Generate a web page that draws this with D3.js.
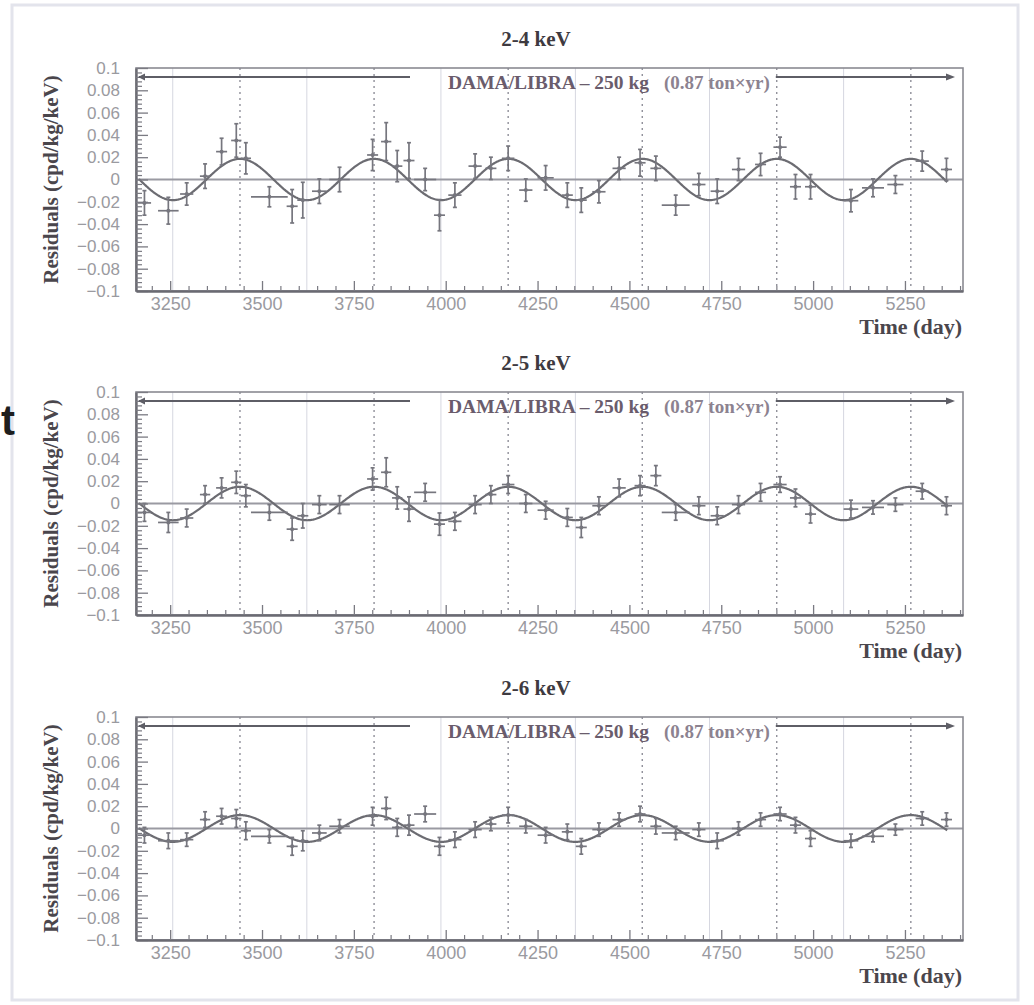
<!DOCTYPE html>
<html>
<head>
<meta charset="utf-8">
<script src="https://cdn.jsdelivr.net/npm/d3@7"></script>
<style>
  html, body { margin: 0; padding: 0; background: #fff; }
  svg { display: block; }
</style>
</head>
<body>
<svg id="chart" width="1034" height="1005"></svg>
<script>
// Time bins (days since 1 January 1995), shared by the three energy windows
const days = [
  3180, 3245, 3295, 3345, 3390, 3430, 3456, 3520, 3582, 3611,
  3656, 3711, 3801, 3838, 3868, 3900, 3944, 3983, 4025, 4080,
  4123, 4170, 4218, 4272, 4331, 4369, 4417, 4472, 4529, 4572,
  4626, 4689, 4739, 4797, 4857, 4910, 4952, 4993, 5103, 5163,
  5224, 5297, 5363
];
// Half width of each time bin (days)
const binHalfWidth = [
  18, 28, 18, 14, 15, 14, 14, 50, 15, 15,
  20, 28, 15, 14, 14, 15, 30, 15, 18, 18,
  15, 17, 18, 22, 15, 15, 18, 18, 15, 15,
  38, 18, 18, 18, 15, 18, 15, 15, 20, 30,
  22, 18, 15
];

// Residual rates (cpd/kg/keV) and their errors, 2-4 keV
const residuals24 = [
  -0.021, -0.028, -0.013, 0.003, 0.025, 0.035, 0.019, -0.0155, -0.024, -0.0185,
  -0.0105, 0.000, 0.022, 0.034, 0.012, 0.017, 0.000, -0.032, -0.014, 0.012,
  0.010, 0.019, -0.0095, 0.0015, -0.014, -0.0185, -0.011, 0.010, 0.015, 0.010,
  -0.023, -0.0045, -0.0105, 0.009, 0.0135, 0.029, -0.0065, -0.0065, -0.019, -0.0075,
  -0.0045, 0.0165, 0.009
];
const errors24 = [
  0.011, 0.012, 0.010, 0.011, 0.012, 0.015, 0.014, 0.009, 0.015, 0.016,
  0.011, 0.011, 0.014, 0.017, 0.014, 0.016, 0.010, 0.014, 0.011, 0.011,
  0.010, 0.011, 0.010, 0.011, 0.011, 0.011, 0.010, 0.010, 0.012, 0.011,
  0.009, 0.010, 0.011, 0.010, 0.010, 0.009, 0.011, 0.011, 0.010, 0.008,
  0.008, 0.009, 0.010
];

// 2-5 keV
const residuals25 = [
  -0.008, -0.017, -0.013, 0.008, 0.014, 0.019, 0.007, -0.008, -0.023, -0.011,
  -0.001, -0.001, 0.022, 0.028, 0.005, -0.005, 0.010, -0.0185, -0.016, -0.001,
  0.008, 0.017, 0.000, -0.006, -0.0125, -0.0215, -0.002, 0.014, 0.016, 0.025,
  -0.008, -0.002, -0.011, -0.001, 0.010, 0.017, 0.005, -0.0095, -0.005, -0.0035,
  -0.001, 0.011, -0.002
];
const errors25 = [
  0.008, 0.009, 0.008, 0.008, 0.009, 0.010, 0.010, 0.007, 0.010, 0.011,
  0.008, 0.008, 0.010, 0.013, 0.010, 0.011, 0.008, 0.010, 0.008, 0.008,
  0.008, 0.008, 0.008, 0.008, 0.008, 0.009, 0.008, 0.008, 0.009, 0.009,
  0.007, 0.008, 0.008, 0.008, 0.008, 0.007, 0.008, 0.008, 0.008, 0.006,
  0.006, 0.007, 0.008
];

// 2-6 keV
const residuals26 = [
  -0.006, -0.011, -0.010, 0.008, 0.011, 0.009, -0.002, -0.007, -0.016, -0.011,
  -0.004, 0.002, 0.011, 0.018, 0.001, 0.003, 0.013, -0.016, -0.010, -0.001,
  0.004, 0.012, 0.002, -0.006, -0.003, -0.016, -0.001, 0.008, 0.013, 0.002,
  -0.004, -0.001, -0.011, 0.000, 0.008, 0.013, 0.003, -0.009, -0.011, -0.007,
  -0.001, 0.009, 0.008
];
const errors26 = [
  0.007, 0.007, 0.006, 0.007, 0.007, 0.008, 0.008, 0.006, 0.008, 0.009,
  0.007, 0.006, 0.008, 0.010, 0.008, 0.009, 0.007, 0.008, 0.007, 0.007,
  0.006, 0.007, 0.006, 0.007, 0.007, 0.007, 0.006, 0.006, 0.007, 0.007,
  0.006, 0.006, 0.007, 0.006, 0.006, 0.006, 0.007, 0.007, 0.006, 0.005,
  0.005, 0.006, 0.006
];

const panelTitles = ["2-4 keV", "2-5 keV", "2-6 keV"];

// Fitted modulation A·cos(2π(t − t0)/T)
const fitAmplitudes = [0.0185, 0.0150, 0.0120];
const fitPeriod = 365.25;
const fitPhaseDay = 3440;          // 2 June 2004
const fitRange = [3165, 5365];

// Reference dates: 2 June (dotted) and 2 December (thin solid)
const juneMarks = [3440, 3805, 4170, 4535, 4901, 5266];
const decemberMarks = [3257, 3622, 3987, 4353, 4718, 5083];

const xTickValues = [3250, 3500, 3750, 4000, 4250, 4500, 4750, 5000, 5250];
const yTickValues = [0.1, 0.08, 0.06, 0.04, 0.02, 0, -0.02, -0.04, -0.06, -0.08, -0.1];
const yTickLabels = ["0.1", "0.08", "0.06", "0.04", "0.02", "0",
                     "\u22120.02", "\u22120.04", "\u22120.06", "\u22120.08", "\u22120.1"];

const dayDomain = [3157, 5408];
const residualDomain = [-0.1, 0.1];

const exposureLabel = "DAMA/LIBRA \u2013 250 kg";
const exposureNote = "(0.87 ton\u00d7yr)";
const yAxisTitle = "Residuals (cpd/kg/keV)";
const xAxisTitle = "Time (day)";

// ---------------------------------------------------------------
const series = [
  { values: residuals24, errors: errors24 },
  { values: residuals25, errors: errors25 },
  { values: residuals26, errors: errors26 }
].map((s, i) => ({ ...s, title: panelTitles[i], amplitude: fitAmplitudes[i] }));

const SERIF = "'Liberation Serif', 'Times New Roman', serif";
const SANS = "'Liberation Sans', Arial, sans-serif";

const svg = d3.select("#chart");

// page border
svg.append("rect")
  .attr("x", 12).attr("y", 5).attr("width", 1006).attr("height", 995)
  .attr("fill", "none").attr("stroke", "#e3e4ec").attr("stroke-width", 3);

// glyph at the page edge
svg.append("text")
  .attr("x", 1).attr("y", 435)
  .attr("font-family", SANS).attr("font-weight", "bold").attr("font-size", 42)
  .attr("fill", "#1e1e1e").text("t");

const panelTops = [68, 392, 717];
const plotLeft = 136, plotRight = 963, plotHeight = 223;

const x = d3.scaleLinear().domain(dayDomain).range([plotLeft, plotRight]);
const y = d3.scaleLinear().domain(residualDomain).range([plotHeight, 0]);

const defs = svg.append("defs");
defs.append("clipPath").attr("id", "plotClip")
  .append("rect").attr("x", plotLeft).attr("y", 0)
  .attr("width", plotRight - plotLeft).attr("height", plotHeight);

const xMinor = d3.range(3200, 5401, 50).filter(d => !xTickValues.includes(d));
const yMinor = d3.range(-25, 26).map(k => +(k * 0.004).toFixed(3))
  .filter(v => !yTickValues.some(t => Math.abs(t - v) < 1e-9));

series.forEach((s, pi) => {
  const g = svg.append("g").attr("transform", `translate(0,${panelTops[pi]})`);
  const plot = g.append("g").attr("clip-path", "url(#plotClip)");

  // December lines
  plot.selectAll("line.dec").data(decemberMarks).join("line")
    .attr("class", "dec")
    .attr("x1", d => x(d)).attr("x2", d => x(d))
    .attr("y1", 0).attr("y2", plotHeight)
    .attr("stroke", "#d6d7e0").attr("stroke-width", 1);

  // June lines
  plot.selectAll("line.jun").data(juneMarks).join("line")
    .attr("class", "jun")
    .attr("x1", d => x(d)).attr("x2", d => x(d))
    .attr("y1", 0).attr("y2", plotHeight)
    .attr("stroke", "#8f8f99").attr("stroke-width", 1.4)
    .attr("stroke-dasharray", "2,4");

  // zero line
  plot.append("line")
    .attr("x1", plotLeft).attr("x2", plotRight)
    .attr("y1", y(0)).attr("y2", y(0))
    .attr("stroke", "#9a9aa2").attr("stroke-width", 2);

  // fitted cosine
  const fitPts = d3.range(fitRange[0], fitRange[1] + 1, 2)
    .map(t => [t, s.amplitude * Math.cos(2 * Math.PI * (t - fitPhaseDay) / fitPeriod)]);
  plot.append("path")
    .datum(fitPts)
    .attr("fill", "none").attr("stroke", "#6c6c72").attr("stroke-width", 2.2)
    .attr("d", d3.line().x(d => x(d[0])).y(d => y(d[1])));

  // data points with error bars
  const pts = days.map((t, i) => ({ t, hw: binHalfWidth[i], v: s.values[i], e: s.errors[i] }));
  const pg = plot.selectAll("g.pt").data(pts).join("g").attr("class", "pt")
    .attr("stroke", "#76767e").attr("stroke-width", 1.7);
  pg.append("line")
    .attr("x1", d => x(d.t - d.hw)).attr("x2", d => x(d.t + d.hw))
    .attr("y1", d => y(d.v)).attr("y2", d => y(d.v));
  pg.append("line")
    .attr("x1", d => x(d.t)).attr("x2", d => x(d.t))
    .attr("y1", d => y(d.v - d.e)).attr("y2", d => y(d.v + d.e));
  pg.append("line")
    .attr("x1", d => x(d.t) - 2).attr("x2", d => x(d.t) + 2)
    .attr("y1", d => y(d.v + d.e)).attr("y2", d => y(d.v + d.e));
  pg.append("line")
    .attr("x1", d => x(d.t) - 2).attr("x2", d => x(d.t) + 2)
    .attr("y1", d => y(d.v - d.e)).attr("y2", d => y(d.v - d.e));
  pg.append("circle")
    .attr("cx", d => x(d.t)).attr("cy", d => y(d.v)).attr("r", 2)
    .attr("fill", "#76767e").attr("stroke", "none");

  // frame
  g.append("rect")
    .attr("x", plotLeft).attr("y", 0)
    .attr("width", plotRight - plotLeft).attr("height", plotHeight)
    .attr("fill", "none").attr("stroke", "#8a8a92").attr("stroke-width", 1.6);

  // left axis
  const yAxis = g.append("g").attr("transform", `translate(${plotLeft},0)`)
    .call(d3.axisLeft(y).tickValues(yTickValues)
      .tickFormat((d, i) => yTickLabels[i])
      .tickSizeInner(-12).tickSizeOuter(0).tickPadding(16));
  yAxis.select(".domain").attr("stroke", "#6a6a72").attr("stroke-width", 2.4);
  yAxis.selectAll(".tick line").attr("stroke", "#7a7a82").attr("stroke-width", 1.3);
  yAxis.selectAll("text").attr("font-family", SANS).attr("font-size", 17)
    .attr("fill", "#9a9aa0");
  g.append("g").attr("transform", `translate(${plotLeft},0)`)
    .call(d3.axisLeft(y).tickValues(yMinor).tickFormat("")
      .tickSizeInner(-6).tickSizeOuter(0))
    .call(a => a.select(".domain").remove())
    .selectAll(".tick line").attr("stroke", "#7a7a82").attr("stroke-width", 1.2);

  // bottom axis
  const xAxis = g.append("g").attr("transform", `translate(0,${plotHeight})`)
    .call(d3.axisBottom(x).tickValues(xTickValues).tickFormat(d3.format("d"))
      .tickSizeInner(-10).tickSizeOuter(0).tickPadding(6));
  xAxis.select(".domain").attr("stroke", "#6a6a72").attr("stroke-width", 2.4);
  xAxis.selectAll(".tick line").attr("stroke", "#7a7a82").attr("stroke-width", 1.3);
  xAxis.selectAll("text").attr("font-family", SANS).attr("font-size", 18)
    .attr("fill", "#9a9aa0");
  g.append("g").attr("transform", `translate(0,${plotHeight})`)
    .call(d3.axisBottom(x).tickValues(xMinor).tickFormat("")
      .tickSizeInner(-5).tickSizeOuter(0))
    .call(a => a.select(".domain").remove())
    .selectAll(".tick line").attr("stroke", "#7a7a82").attr("stroke-width", 1.2);

  // exposure annotation with arrows
  const arrowY = 9;
  const leftEnd = 410, textStart = 448, rightTip = 955;
  const ann = g.append("g");
  ann.append("line").attr("x1", plotLeft + 3).attr("x2", leftEnd)
    .attr("y1", arrowY).attr("y2", arrowY)
    .attr("stroke", "#5e5e66").attr("stroke-width", 1.8);
  ann.append("path")
    .attr("d", `M${plotLeft + 2},${arrowY} l7,-3.5 l0,7 z`)
    .attr("fill", "#5e5e66");
  const t1 = ann.append("text").attr("x", textStart).attr("y", 21)
    .attr("font-family", SERIF).attr("font-weight", "bold").attr("font-size", 19.5)
    .attr("fill", "#6a5c6c").text(exposureLabel);
  const t1End = textStart + t1.node().getComputedTextLength();
  const t2 = ann.append("text").attr("x", t1End + 15).attr("y", 21)
    .attr("font-family", SERIF).attr("font-weight", "bold").attr("font-size", 19)
    .attr("fill", "#8c8290").text(exposureNote);
  const t2End = t1End + 15 + t2.node().getComputedTextLength();
  ann.append("line").attr("x1", t2End + 6).attr("x2", rightTip - 7)
    .attr("y1", arrowY).attr("y2", arrowY)
    .attr("stroke", "#5e5e66").attr("stroke-width", 1.8);
  ann.append("path")
    .attr("d", `M${rightTip},${arrowY} l-9,-3.5 l0,7 z`)
    .attr("fill", "#5e5e66");

  // panel title
  g.append("text").attr("x", 536).attr("y", -22)
    .attr("text-anchor", "middle")
    .attr("font-family", SERIF).attr("font-weight", "bold").attr("font-size", 21)
    .attr("fill", "#3e3a40").text(s.title);

  // axis titles
  g.append("text")
    .attr("transform", `translate(58,${plotHeight / 2}) rotate(-90)`)
    .attr("text-anchor", "middle")
    .attr("font-family", SERIF).attr("font-weight", "bold").attr("font-size", 21)
    .attr("fill", "#4a464c").text(yAxisTitle);
  g.append("text").attr("x", 962).attr("y", plotHeight + 43)
    .attr("text-anchor", "end")
    .attr("font-family", SERIF).attr("font-weight", "bold").attr("font-size", 22)
    .attr("fill", "#4a464c").text(xAxisTitle);
});
</script>
</body>
</html>
